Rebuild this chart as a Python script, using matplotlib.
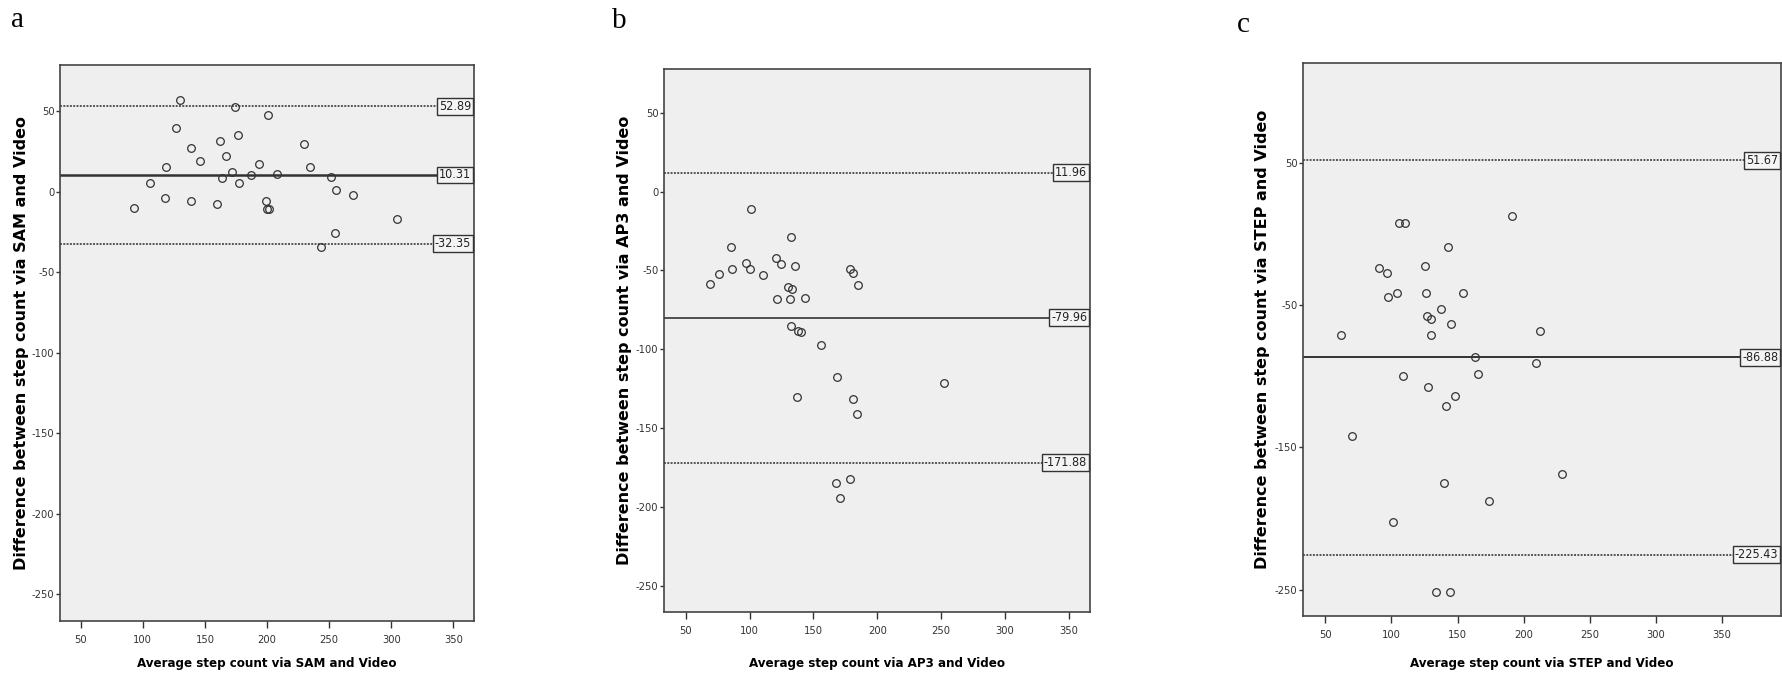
import numpy as np
import matplotlib
matplotlib.use("Agg")
import matplotlib.pyplot as plt

# Bland-Altman style plots, three devices vs video

sam_mean = [92.9, 105.5, 118.4, 117.9, 126.5, 130.0, 138.5, 138.8, 146.3, 160.0,
            162.4, 164.0, 167.0, 172.1, 174.0, 176.6, 177.4, 187.1, 193.5, 198.9,
            199.7, 201.3, 200.5, 208.3, 229.5, 234.6, 243.2, 251.5, 255.0, 255.8,
            268.9, 304.6]
sam_diff = [-10.2, 5.2, 15.2, -4.0, 39.4, 56.5, 27.3, -6.0, 19.2, -7.9,
            31.5, 8.1, 22.3, 12.1, 52.7, 35.2, 5.2, 10.2, 17.3, -6.0,
            -11.0, -11.0, 47.5, 11.0, 29.4, 15.2, -34.4, 9.0, -26.0, 1.0,
            -1.9, -17.1]
sam_lines = [52.89, 10.31, -32.35]

ap3_mean = [68.8, 75.8, 85.5, 86.3, 97.5, 100.4, 101.4, 110.3, 121.0, 124.9,
            121.8, 129.9, 133.0, 131.7, 132.2, 135.4, 143.5, 178.5, 181.3, 185.2,
            132.5, 138.0, 140.0, 156.3, 168.3, 136.9, 181.3, 184.2, 252.3, 167.7,
            179.0, 170.9]
ap3_diff = [-58.3, -52.1, -35.2, -49.2, -45.1, -49.4, -11.0, -53.2, -42.2, -46.2,
            -68.2, -60.2, -62.0, -68.4, -29.0, -47.0, -67.2, -49.4, -51.5, -59.3,
            -85.2, -88.5, -89.3, -97.2, -117.4, -130.5, -131.6, -141.3, -121.2, -184.6,
            -182.4, -194.5]
ap3_lines = [11.96, -79.96, -171.88]

step_mean = [105.4, 110.4, 191.0, 142.9, 90.5, 96.8, 125.5, 97.3, 103.9, 126.0,
             154.2, 137.3, 127.0, 129.8, 144.9, 212.6, 61.8, 129.8, 163.5, 209.6,
             108.6, 165.3, 127.8, 147.9, 141.4, 70.6, 228.7, 139.4, 174.1, 101.1,
             133.8, 144.1]
step_diff = [7.3, 7.3, 12.2, -9.6, -24.4, -27.7, -22.5, -44.4, -41.8, -41.8,
             -41.8, -52.6, -57.7, -59.6, -63.6, -68.5, -71.4, -71.4, -86.9, -90.6,
             -99.8, -98.8, -107.7, -113.8, -120.9, -141.8, -168.8, -174.9, -187.8, -202.6,
             -251.6, -251.6]
step_lines = [51.67, -86.88, -225.43]

x_ticks = [50, 100, 150, 200, 250, 300, 350]

W, H = 1782, 676
narrow = dict(family='DejaVu Sans', stretch='condensed')

fig = plt.figure(figsize=(W / 100, H / 100), dpi=100)
fig.patch.set_facecolor('white')


def fmt(v):
    s = "{0:g}".format(v) if float(v).is_integer() else "{0:.2f}".format(v)
    return s.replace('\u2212', '-')


def panel(box, xlim, ylim, yticks, xs, ys, lines, name, letter, letter_xy, ylab_x, mean_lw):
    l, r, t, b = box
    ax = fig.add_axes([l / W, 1 - b / H, (r - l) / W, (b - t) / H])
    ax.set_facecolor('#efefef')
    ax.set_xlim(*xlim)
    ax.set_ylim(*ylim)
    for s in ax.spines.values():
        s.set_color('#444444')
        s.set_linewidth(1.2)

    # limits of agreement (dotted) and mean (solid)
    for i, v in enumerate(lines):
        if i == 1:
            ax.axhline(v, color='#333333', lw=mean_lw, zorder=2)
        else:
            ax.axhline(v, color='#555555', lw=1.4, ls=(0, (1.0, 0.7)), zorder=2)
        ax.annotate(fmt(v), xy=(1.0, v), xycoords=('axes fraction', 'data'),
                    xytext=(-2, 0), textcoords='offset points',
                    ha='right', va='center', fontsize=9, color='#222222',
                    bbox=dict(boxstyle='square,pad=0.15', fc='#f4f4f4', ec='#333333', lw=1.0),
                    annotation_clip=False, zorder=5, **narrow)

    ax.plot(xs, ys, 'o', ms=5.5, mfc='none', mec='#333333', mew=0.9, zorder=4)

    ax.set_xticks(x_ticks)
    ax.set_xticklabels([str(v) for v in x_ticks], fontsize=8, color='#333333', **narrow)
    ax.set_yticks(yticks)
    ax.set_yticklabels([fmt(v) for v in yticks], fontsize=8, color='#333333', **narrow)
    ax.tick_params(axis='x', length=5, width=1, color='#333333', pad=5)
    ax.tick_params(axis='y', length=3, width=1, color='#333333', pad=1)

    fig.text(((l + r) / 2) / W, 1 - 663 / H,
             "Average step count via {0} and Video".format(name),
             ha='center', va='center', fontsize=9.5, fontweight='bold', **narrow)
    fig.text(ylab_x / W, 1 - ((t + b) / 2) / H,
             "Difference between step count via {0} and Video".format(name),
             rotation=90, ha='center', va='center', fontsize=11.5, fontweight='bold',
             family='DejaVu Sans')
    fig.text(letter_xy[0] / W, 1 - letter_xy[1] / H, letter, family='Liberation Serif',
             fontsize=21, ha='left', va='baseline')
    return ax


panel((60, 474, 65, 621), (33.3, 366.7), (-266.5, 78.5), list(range(50, -251, -50)),
      sam_mean, sam_diff, sam_lines, 'SAM', 'a', (11, 27), 22, 1.8)
panel((664, 1090, 69, 612), (33.0, 366.5), (-266.7, 77.8), list(range(50, -251, -50)),
      ap3_mean, ap3_diff, ap3_lines, 'AP3', 'b', (612, 28), 625, 1.2)
panel((1303, 1781, 63, 616), (33.2, 394.5), (-268.6, 120.0), [50, -50, -150, -250],
      step_mean, step_diff, step_lines, 'STEP', 'c', (1237, 32), 1262, 1.4)

fig.savefig('out.png', dpi=100, facecolor='white')
